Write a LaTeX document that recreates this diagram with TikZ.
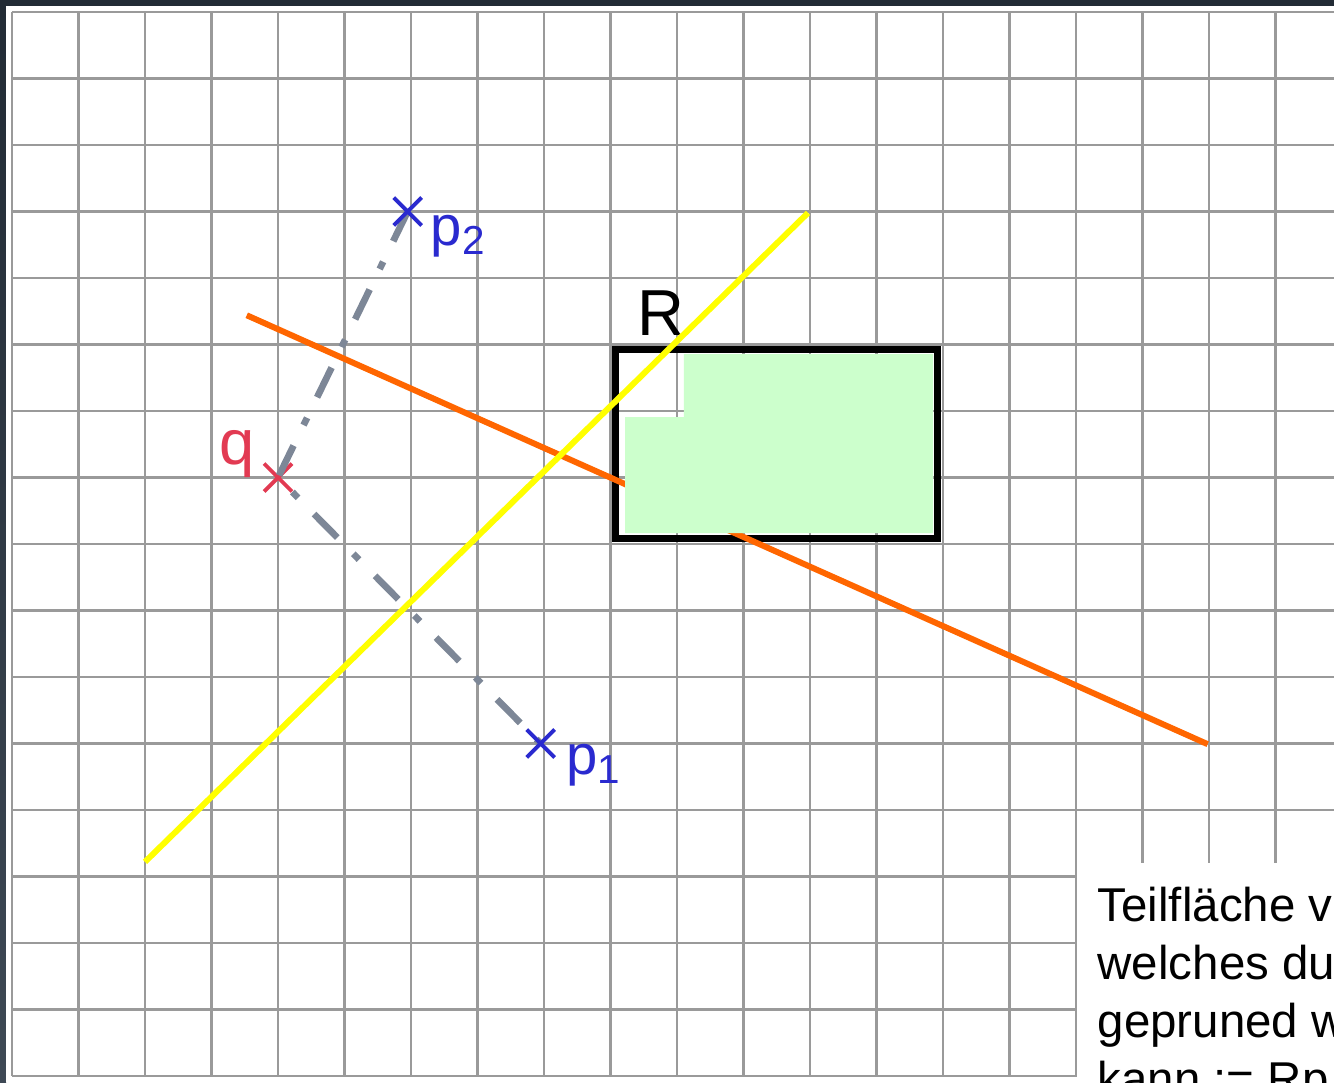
\documentclass[tikz,border=0pt]{standalone}
\usepackage{fontspec}
\setmainfont{Liberation Sans}
\usetikzlibrary{shapes.misc}
\definecolor{frame}{HTML}{222B35}
\definecolor{framelow}{HTML}{3E4955}
\definecolor{gridline}{HTML}{9A9A9A}
\definecolor{region}{HTML}{CCFFCC}
\definecolor{bisecA}{HTML}{FFFF00}
\definecolor{bisecB}{HTML}{FF6600}
\definecolor{conn}{HTML}{7D8797}
\definecolor{pt}{HTML}{2A2ACF}
\definecolor{query}{HTML}{E23A52}
\newcommand{\ptname}[1]{p\raisebox{-2.6pt}{\fontsize{11.5}{11.5}\selectfont #1}}
\tikzset{
  xmark/.style={draw, cross out, line width=1.1pt, minimum size=0.24cm, inner sep=0pt},
  lbl/.style={anchor=base west, inner sep=0pt},
}

\begin{document}
\begin{tikzpicture}[x=0.665cm,y=-0.665cm]
  \clip (-0.1805,-0.1805) rectangle (19.8797,16.0902);
  % frame and paper
  \fill[frame] (-0.1805,-0.1805) rectangle (19.8797,16.0902);
  \shade[top color=frame,bottom color=framelow] (-0.1805,-0.1805) rectangle (-0.09,16.0902);
  \fill[white] (-0.09,-0.09) rectangle (19.8797,16.0902);

  % grid
  \foreach \i in {0,...,19}
    \draw[gridline,line width=0.8pt] (\i,0) -- (\i,16);
  \foreach \j in {0,...,16}
    \draw[gridline,line width=0.8pt] (0,\j) -- (19.8797,\j);

  % rectangle R
  \draw[line width=2pt] (9.08,5.08) rectangle (13.92,7.91);
  \node[lbl, font=\fontsize{18.5}{18.5}\selectfont] (rlbl) at (9.398,4.857) {R};

  % bisectors and the part that is left
  \draw[bisecB, line width=1.7pt] (3.53,4.56) -- (17.98,11.01);
  \fill[region] (10.105,5.143) -- (13.85,5.143) -- (13.85,7.835) -- (9.218,7.835)
    -- (9.218,6.09) -- (10.105,6.09) -- cycle;
  \draw[bisecA, line width=1.7pt] (2,12.78) -- (11.97,3.02);

  % query point and data points
  \coordinate (p2) at (5.95,3);
  \coordinate (q) at (4,7);
  \coordinate (p1) at (7.95,11);
  \node[xmark, query] (qx) at (q) {};
  \draw[conn, line width=1.9pt, dash pattern=on 9.4pt off 6.5pt on 2.3pt off 6.5pt]
    (p2) -- (q) -- (p1);
  \node[xmark, pt] (p2x) at (p2) {};
  \node[xmark, pt] (p1x) at (p1) {};
  \node[lbl, query, font=\fontsize{18}{18}\selectfont] (qlbl) at (3.113,6.797) {q};
  \node[lbl, pt, font=\fontsize{16}{16}\selectfont] (p2lbl) at (6.286,3.504) {\ptname{2}};
  \node[lbl, pt, font=\fontsize{16}{16}\selectfont] (p1lbl) at (8.331,11.47) {\ptname{1}};

  % note
  \fill[white] (16.015,12.797) rectangle (19.8797,16.0902);
  \node[lbl, align=left, font=\fontsize{13.5}{16.5}\selectfont] (note) at (16.316,16.286)
    {Teilfläche v\\welches du\\gepruned w\\kann := Rp};
\end{tikzpicture}
\end{document}
